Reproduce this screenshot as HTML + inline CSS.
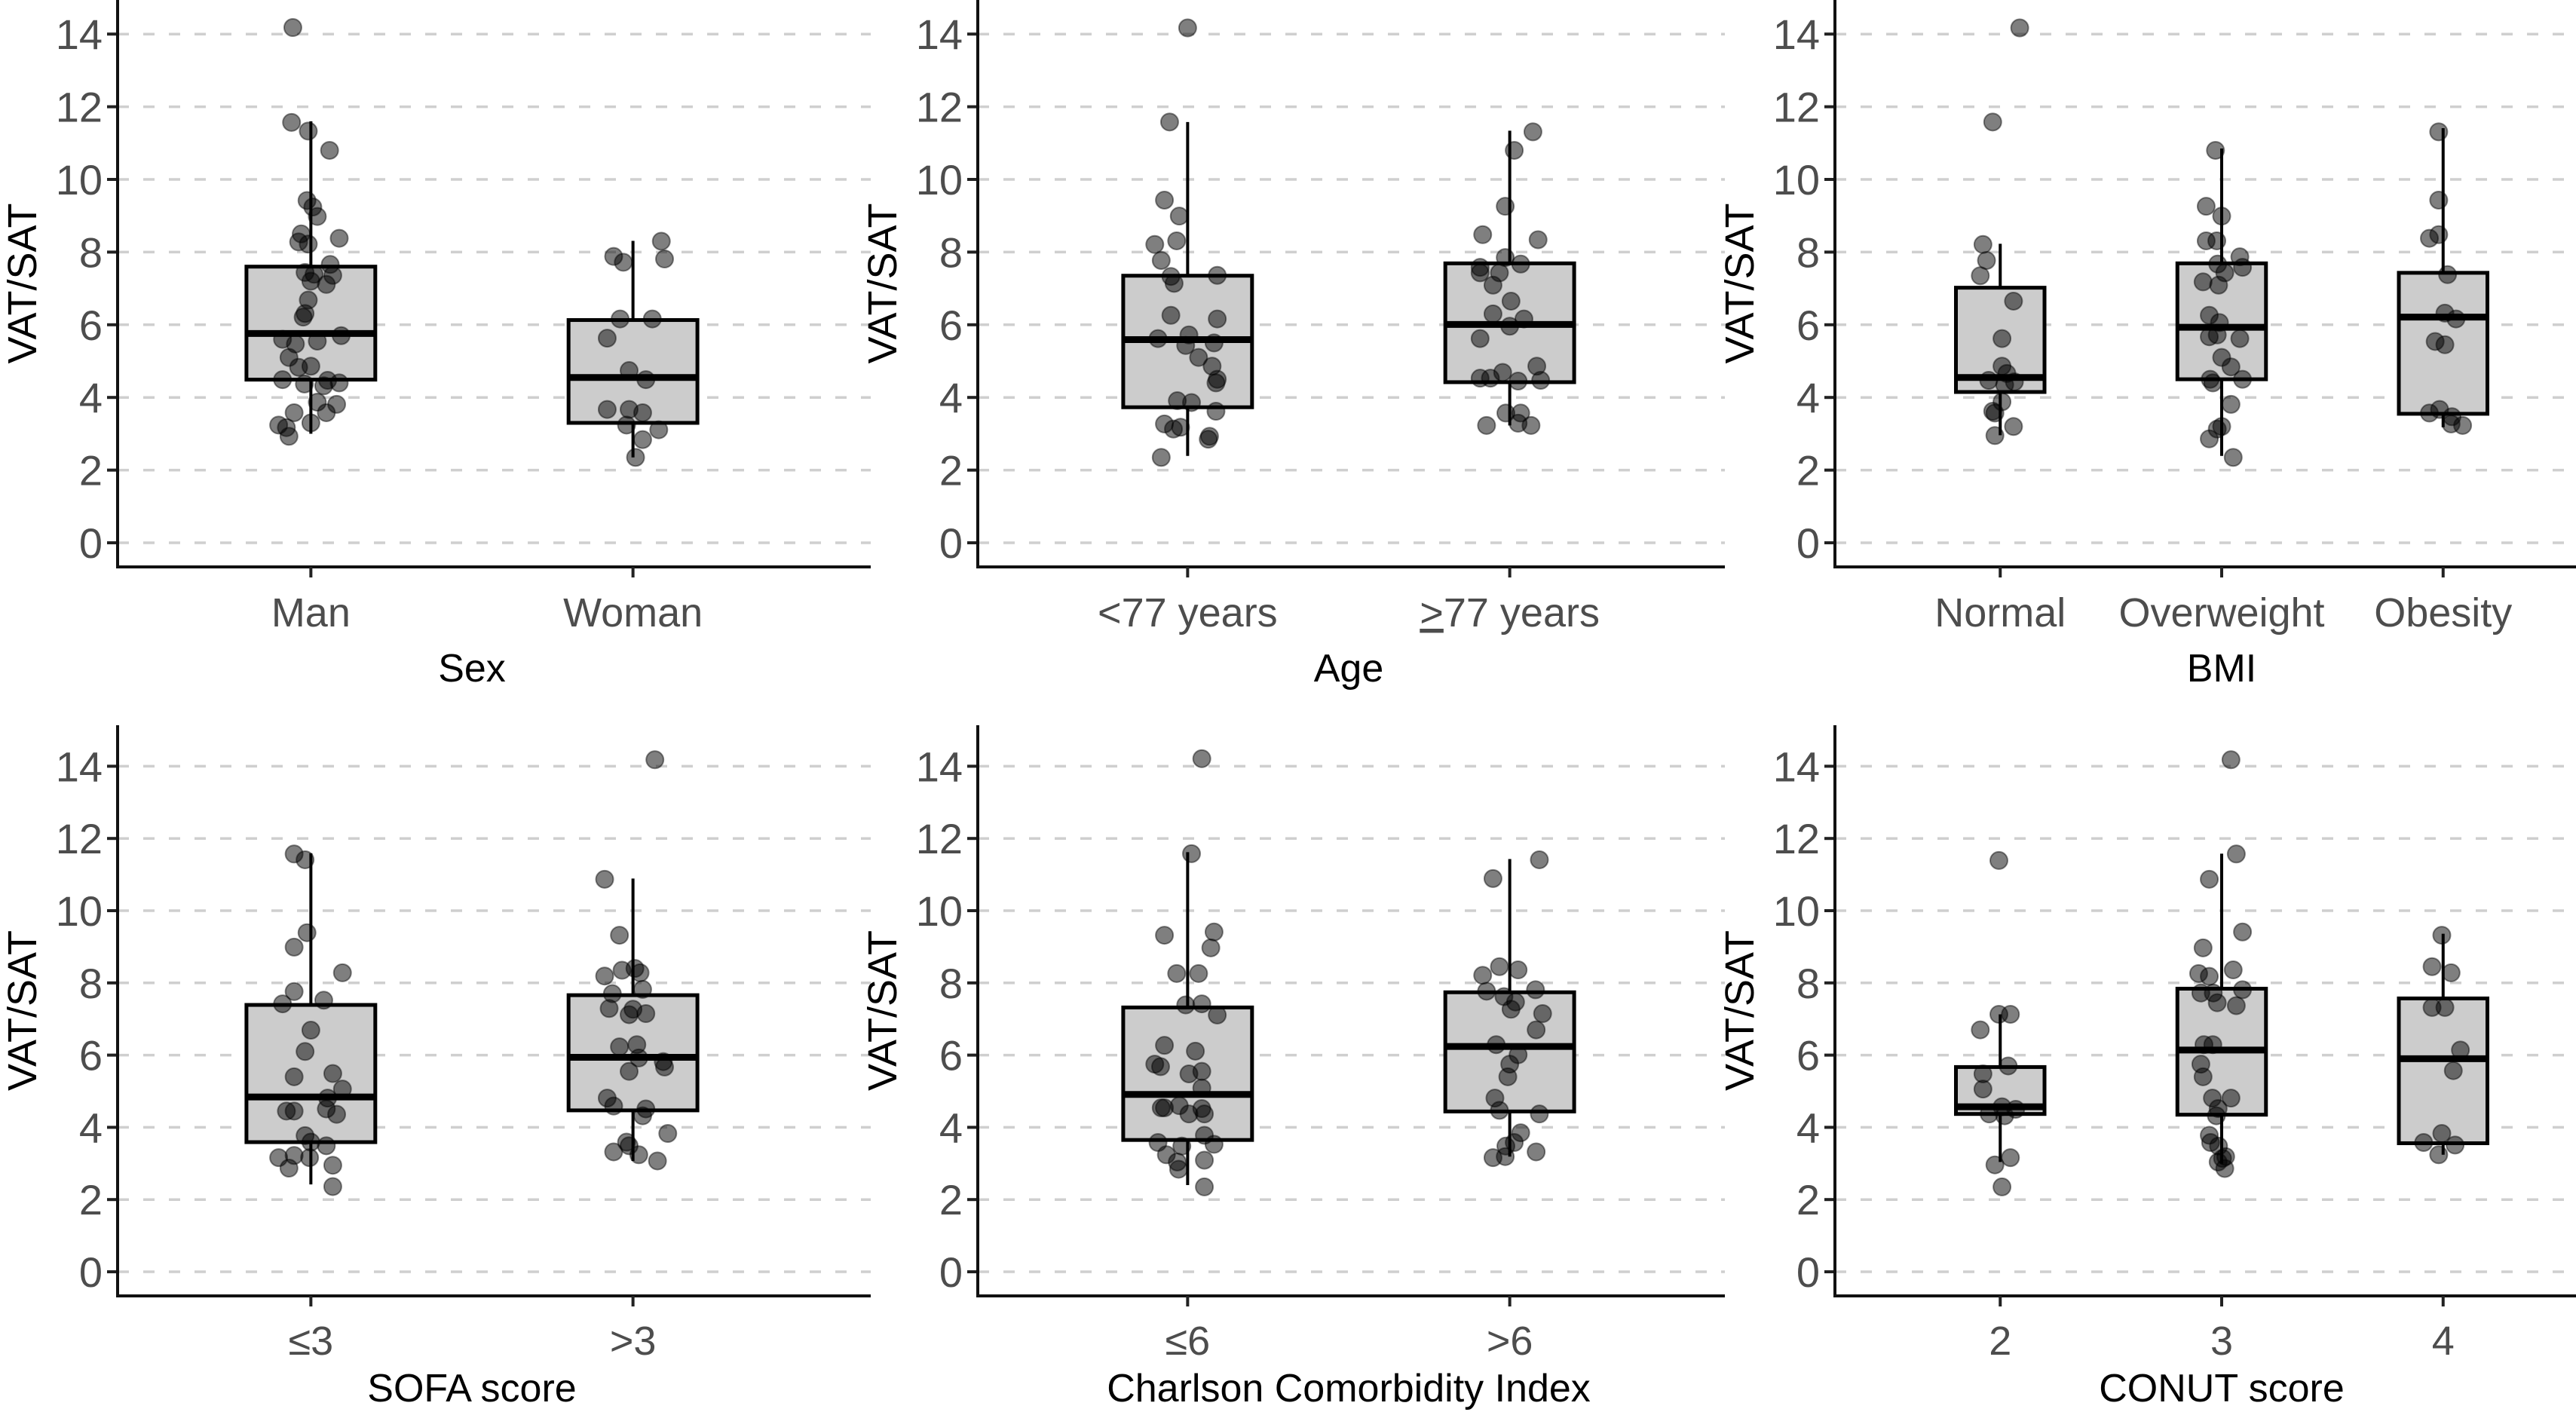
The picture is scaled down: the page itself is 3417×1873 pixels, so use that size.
<!DOCTYPE html>
<html><head><meta charset="utf-8"><style>
html,body{margin:0;padding:0;background:#fff;}
svg{display:block;font-family:"Liberation Sans",Arial,sans-serif;}
</style></head><body>
<svg id="chart" width="3417" height="1873" viewBox="0 0 3417 1873" xmlns="http://www.w3.org/2000/svg"></svg>
<script>
// ---------- data ----------
const p1Categories = ["Man","Woman"];
const p1Q1 = [4.49, 3.3]; const p1Median = [5.76, 4.55]; const p1Q3 = [7.6, 6.13];
const p1WhiskerLow = [3.0, 2.35]; const p1WhiskerHigh = [11.6, 8.31];
const p1Values = [
 [14.18,11.57,11.33,10.8,9.42,9.24,8.98,8.5,8.28,8.22,8.38,7.66,7.44,7.39,7.36,7.2,7.11,6.68,6.31,6.21,5.7,5.6,5.47,5.55,5.1,4.83,4.86,4.49,4.47,4.37,4.4,4.32,3.87,3.81,3.58,3.58,3.3,3.24,3.17,2.93],
 [8.3,7.88,7.72,7.81,6.16,6.16,5.63,4.74,4.49,3.67,3.67,3.58,3.24,3.11,2.84,2.35]];
const p1Jitter = [
 [-0.28,-0.3,-0.04,0.29,-0.06,0.03,0.1,-0.15,-0.19,-0.04,0.44,0.3,-0.09,0.05,0.34,0,0.24,-0.04,-0.09,-0.12,0.47,-0.44,-0.24,0.1,-0.34,-0.19,0,-0.44,0.26,-0.1,0.44,0.2,0.1,0.4,-0.26,0.24,0,-0.5,-0.38,-0.34],
 [0.44,-0.3,-0.15,0.49,-0.2,0.3,-0.4,-0.06,0.2,-0.4,-0.06,0.15,-0.1,0.4,0.15,0.04]];

const p2Categories = ["<77 years","\u226577 years"];
const p2Q1 = [3.73, 4.42]; const p2Median = [5.59, 6.01]; const p2Q3 = [7.35, 7.69];
const p2WhiskerLow = [2.39, 3.23]; const p2WhiskerHigh = [11.58, 11.34];
const p2Values = [
 [14.17,11.58,9.43,8.99,8.31,8.21,7.77,7.33,7.14,7.36,6.26,6.16,5.62,5.72,5.5,5.43,5.1,4.86,4.5,4.4,3.91,3.86,3.62,3.27,3.18,3.13,2.93,2.85,2.35],
 [11.31,10.8,9.26,8.48,8.34,7.85,7.67,7.58,7.43,7.43,7.09,6.65,6.3,6.16,5.96,5.62,4.86,4.69,4.53,4.53,4.45,4.47,3.57,3.57,3.29,3.23,3.23]];
const p2Jitter = [
 [0,-0.28,-0.36,-0.13,-0.17,-0.51,-0.41,-0.26,-0.21,0.46,-0.26,0.46,-0.46,0.02,0.41,-0.03,0.17,0.38,0.46,0.44,-0.16,0.06,0.44,-0.36,-0.11,-0.22,0.34,0.32,-0.41],
 [0.36,0.07,-0.07,-0.42,0.44,-0.07,0.17,-0.46,-0.46,-0.16,-0.26,0.02,-0.26,0.22,0,-0.46,0.42,-0.11,-0.46,-0.3,0.13,0.48,-0.06,0.17,0.13,-0.36,0.33]];

const p3Categories = ["Normal","Overweight","Obesity"];
const p3Q1 = [4.15, 4.5, 3.55]; const p3Median = [4.55, 5.93, 6.21]; const p3Q3 = [7.02, 7.69, 7.43];
const p3WhiskerLow = [2.96, 2.39, 3.18]; const p3WhiskerHigh = [8.23, 10.85, 11.41];
const p3Values = [
 [14.17,11.58,8.21,7.77,7.35,6.65,5.62,4.86,4.66,4.47,4.43,4.35,3.88,3.62,3.57,3.2,2.95],
 [10.8,9.26,8.99,8.31,8.31,7.87,7.67,7.58,7.43,7.18,7.09,6.26,6.06,5.67,5.72,5.62,5.1,4.84,4.5,4.5,4.4,3.81,3.2,3.13,2.86,2.35],
 [11.31,9.43,8.48,8.38,7.38,6.32,6.16,5.54,5.45,3.57,3.67,3.47,3.27,3.23]];
const p3Jitter = [
 [0.44,-0.17,-0.39,-0.31,-0.45,0.3,0.04,0.04,0.15,-0.26,0.32,0.1,0.04,-0.17,-0.12,0.3,-0.12],
 [-0.14,-0.35,0,-0.35,-0.11,0.41,-0.09,0.47,0.07,-0.42,-0.07,-0.28,-0.05,-0.28,-0.1,0.41,0,0.21,-0.26,0.47,-0.2,0.21,0,-0.1,-0.28,0.26],
 [-0.1,-0.1,-0.1,-0.31,0.1,0.04,0.29,-0.18,0.04,-0.31,-0.08,0.2,0.18,0.44]];

const p4Categories = ["\u22643",">3"];
const p4Q1 = [3.59, 4.47]; const p4Median = [4.84, 5.94]; const p4Q3 = [7.39, 7.66];
const p4WhiskerLow = [2.42, 3.07]; const p4WhiskerHigh = [11.59, 10.89];
const p4Values = [
 [11.57,11.41,9.39,8.99,8.28,7.76,7.52,7.42,6.69,6.1,5.49,5.4,5.06,4.81,4.51,4.45,4.45,4.36,3.77,3.59,3.49,3.22,3.16,3.16,2.87,2.95,2.36],
 [14.18,10.87,9.32,8.4,8.35,8.28,8.19,7.82,7.7,7.29,7.27,7.15,7.12,6.23,6.29,5.92,5.82,5.67,5.55,4.81,4.59,4.51,4.32,3.83,3.59,3.49,3.32,3.24,3.07]];
const p4Jitter = [
 [-0.26,-0.09,-0.06,-0.26,0.49,-0.26,0.2,-0.44,0,-0.09,0.34,-0.26,0.49,0.26,0.24,-0.38,-0.26,0.4,-0.09,0,0.24,-0.26,-0.5,-0.02,-0.34,0.34,0.34],
 [0.34,-0.44,-0.21,0.03,-0.17,0.11,-0.44,0.15,-0.32,-0.37,0,0.2,-0.06,-0.21,0.06,0.09,0.47,0.49,-0.06,-0.4,-0.3,0.2,0.15,0.54,-0.1,-0.06,-0.3,0.09,0.38]];

const p5Categories = ["\u22646",">6"];
const p5Q1 = [3.65, 4.44]; const p5Median = [4.91, 6.24]; const p5Q3 = [7.32, 7.74];
const p5WhiskerLow = [2.4, 3.19]; const p5WhiskerHigh = [11.62, 11.43];
const p5Values = [
 [14.21,11.58,9.32,9.41,8.97,8.26,8.26,7.39,7.42,7.11,6.27,6.11,5.75,5.68,5.55,5.48,5.09,4.6,4.54,4.54,4.52,4.37,4.37,3.78,3.58,3.53,3.48,3.24,3.09,3.04,2.84,2.35],
 [11.41,10.89,8.45,8.36,8.21,7.77,7.81,7.62,7.47,7.27,7.15,6.7,6.29,6.01,5.75,5.4,4.81,4.47,4.37,3.85,3.58,3.48,3.32,3.19,3.16]];
const p5Jitter = [
 [0.22,0.06,-0.36,0.41,0.36,-0.17,0.17,-0.03,0.22,0.46,-0.36,0.12,-0.51,-0.42,0.22,0.02,0.22,-0.13,-0.41,-0.36,0.22,0.02,0.26,0.26,-0.46,0.41,-0.09,-0.33,0.26,-0.16,-0.14,0.26],
 [0.46,-0.26,-0.16,0.13,-0.42,-0.36,0.4,-0.09,0.09,0.02,0.51,0.41,-0.21,0.13,0,-0.03,-0.23,-0.16,0.46,0.17,0.07,-0.06,0.41,-0.07,-0.26]];

const p6Categories = ["2","3","4"];
const p6Q1 = [4.37, 4.35, 3.56]; const p6Median = [4.57, 6.14, 5.9]; const p6Q3 = [5.67, 7.84, 7.57];
const p6WhiskerLow = [3.04, 2.99, 3.24]; const p6WhiskerHigh = [7.13, 11.58, 9.36];
const p6Values = [
 [11.39,7.13,7.13,6.7,5.7,5.48,5.06,4.57,4.5,4.37,4.32,3.16,2.96,2.35],
 [14.18,11.57,10.87,9.41,8.97,8.36,8.26,8.18,7.81,7.72,7.72,7.45,7.37,6.29,6.29,5.75,5.4,4.81,4.81,4.52,4.32,3.78,3.58,3.48,3.19,3.14,3.04,2.86],
 [9.32,8.45,8.28,7.32,7.32,6.14,5.57,3.83,3.58,3.51,3.24]];
const p6Jitter = [
 [-0.03,-0.03,0.23,-0.45,0.18,-0.39,-0.39,0.04,0.35,-0.25,0.1,0.23,-0.12,0.04],
 [0.21,0.33,-0.28,0.47,-0.42,0.26,-0.52,-0.28,0.47,-0.47,-0.19,-0.1,0.33,-0.4,-0.2,-0.47,-0.42,-0.21,0.21,-0.08,-0.12,-0.28,-0.25,-0.07,0.09,0.02,-0.08,0.07],
 [-0.03,-0.25,0.18,-0.25,0.04,0.39,0.23,-0.03,-0.44,0.27,-0.1]];

const yTicks = [0,2,4,6,8,10,12,14];
const xTitles = ["Sex","Age","BMI","SOFA score","Charlson Comorbidity Index","CONUT score"];

// ---------- drawing ----------
const NS = "http://www.w3.org/2000/svg";
const svg = document.getElementById('chart');
function mk(tag, attrs, parent){
  const e = document.createElementNS(NS, tag);
  for (const k in attrs) e.setAttribute(k, attrs[k]);
  (parent||svg).appendChild(e);
  return e;
}
const catOrigin = [156, 1319, 2477];
const axisXs = [156, 1297, 2434];
const rightXs = [1155, 2288, 3417];
const plotW = 940;
const rows = [{y0:720, unit:48.2, axisY:752, top:0, catY:812, titleY:885},
              {y0:1687, unit:47.9, axisY:1719, top:962, catY:1778, titleY:1840}];
const panels = [
 {cats:p1Categories,q1:p1Q1,med:p1Median,q3:p1Q3,lo:p1WhiskerLow,hi:p1WhiskerHigh,vals:p1Values,jit:p1Jitter},
 {cats:p2Categories,q1:p2Q1,med:p2Median,q3:p2Q3,lo:p2WhiskerLow,hi:p2WhiskerHigh,vals:p2Values,jit:p2Jitter},
 {cats:p3Categories,q1:p3Q1,med:p3Median,q3:p3Q3,lo:p3WhiskerLow,hi:p3WhiskerHigh,vals:p3Values,jit:p3Jitter},
 {cats:p4Categories,q1:p4Q1,med:p4Median,q3:p4Q3,lo:p4WhiskerLow,hi:p4WhiskerHigh,vals:p4Values,jit:p4Jitter},
 {cats:p5Categories,q1:p5Q1,med:p5Median,q3:p5Q3,lo:p5WhiskerLow,hi:p5WhiskerHigh,vals:p5Values,jit:p5Jitter},
 {cats:p6Categories,q1:p6Q1,med:p6Median,q3:p6Q3,lo:p6WhiskerLow,hi:p6WhiskerHigh,vals:p6Values,jit:p6Jitter}];

panels.forEach((p, pi) => {
  const row = rows[Math.floor(pi/3)];
  const co = catOrigin[pi%3];
  const ax = axisXs[pi%3];
  const rx = rightXs[pi%3];
  const n = p.cats.length;
  const span = n - 1 + 1.2;
  const xScale = i => co + (0.6 + i) / span * plotW;
  const yScale = v => row.y0 - v * row.unit;
  const halfW = 0.2 / span * plotW;
  const g = mk('g', {});
  
  
  yTicks.forEach(t => {
    const gl = mk('line', {x1:ax, x2:rx, y1:yScale(t), y2:yScale(t), stroke:'#cfcfcf', 'stroke-width':3.5, 'stroke-dasharray':'15 19'}, g);
    
    
    mk('line', {x1:ax-14, x2:ax, y1:yScale(t), y2:yScale(t), stroke:'#222', 'stroke-width':4}, g);
    const tl = mk('text', {x:ax-20, y:yScale(t)+20, 'text-anchor':'end', 'font-size':56, fill:'#4d4d4d'}, g);
    tl.textContent = t;
    
    
  });
  const ya = mk('line', {x1:ax, x2:ax, y1:row.top, y2:row.axisY+2, stroke:'#111', 'stroke-width':4}, g);
  
  
  const xa = mk('line', {x1:ax-2, x2:rx, y1:row.axisY, y2:row.axisY, stroke:'#111', 'stroke-width':4}, g);
  
  
  const yc = (row.top + row.axisY)/2;
  const yt = mk('text', {x:0, y:0, transform:`translate(${ax-108},${yc}) rotate(-90)`, 'text-anchor':'middle', 'font-size':54, fill:'#000'}, g);
  yt.textContent = 'VAT/SAT';
  
  
  const xt = mk('text', {x:co+plotW/2, y:row.titleY+19, 'text-anchor':'middle', 'font-size':52, fill:'#000'}, g);
  xt.textContent = xTitles[pi];
  
  
  p.cats.forEach((c, i) => {
    const cx = xScale(i);
    mk('line', {x1:cx, x2:cx, y1:row.axisY, y2:row.axisY+14, stroke:'#222', 'stroke-width':4}, g);
    const cl = mk('text', {x:cx, y:row.catY+19, 'text-anchor':'middle', 'font-size':54, fill:'#4d4d4d'}, g);
    if (c.charAt(0) === '\u2265') {
      const ts = mk('tspan', {'text-decoration':'underline'}, cl);
      ts.textContent = '>';
      const ts2 = mk('tspan', {}, cl);
      ts2.textContent = c.slice(1);
    } else {
      cl.textContent = c;
    }
    
    
    const w = mk('line', {x1:cx, x2:cx, y1:yScale(p.lo[i]), y2:yScale(p.hi[i]), stroke:'#000', 'stroke-width':4}, g);
    
    
    const b = mk('rect', {x:cx-halfW, y:yScale(p.q3[i]), width:2*halfW, height:yScale(p.q1[i])-yScale(p.q3[i]), fill:'#cccccc', stroke:'#000', 'stroke-width':5}, g);
    
    
    const m = mk('line', {x1:cx-halfW, x2:cx+halfW, y1:yScale(p.med[i]), y2:yScale(p.med[i]), stroke:'#000', 'stroke-width':9}, g);
    
    
  });
  p.cats.forEach((c, i) => {
    const cx = xScale(i);
    p.vals[i].forEach((v, k) => {
      const pt = mk('circle', {cx:cx + p.jit[i][k]*halfW, cy:yScale(v), r:11.5, fill:'rgba(0,0,0,0.5)', stroke:'rgba(0,0,0,0.45)', 'stroke-width':2}, g);
      
      
    });
  });
});
</script>
</body></html>
